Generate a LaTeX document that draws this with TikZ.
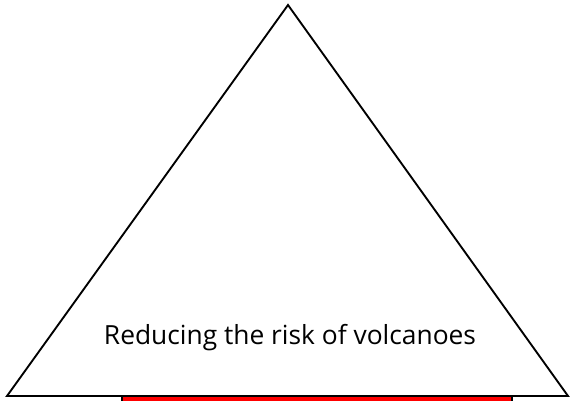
\documentclass[tikz,border=0pt]{standalone}
\usepackage{fontspec}
\setmainfont{Open Sans}
\begin{document}
\begin{tikzpicture}[x=0.03cm,y=-0.03cm]

  % Frame of the picture
  \useasboundingbox (0,0) rectangle (571,401);

  % Define the line width
  \def\lw{1.6pt}

  % Red bar under the base
  \draw[fill=red, line width=\lw] (122,396) rectangle (512,410);

  % Triangle
  \coordinate (left) at (7,396);
  \coordinate (top) at (288,5);
  \coordinate (right) at (568,396);
  \draw[line width=\lw, line join=miter] (left) -- (top) -- (right) -- cycle;

  % Label
  \node (label) at (290,338) {\fontsize{22.5}{27}\selectfont Reducing the risk of volcanoes};

\end{tikzpicture}
\end{document}
